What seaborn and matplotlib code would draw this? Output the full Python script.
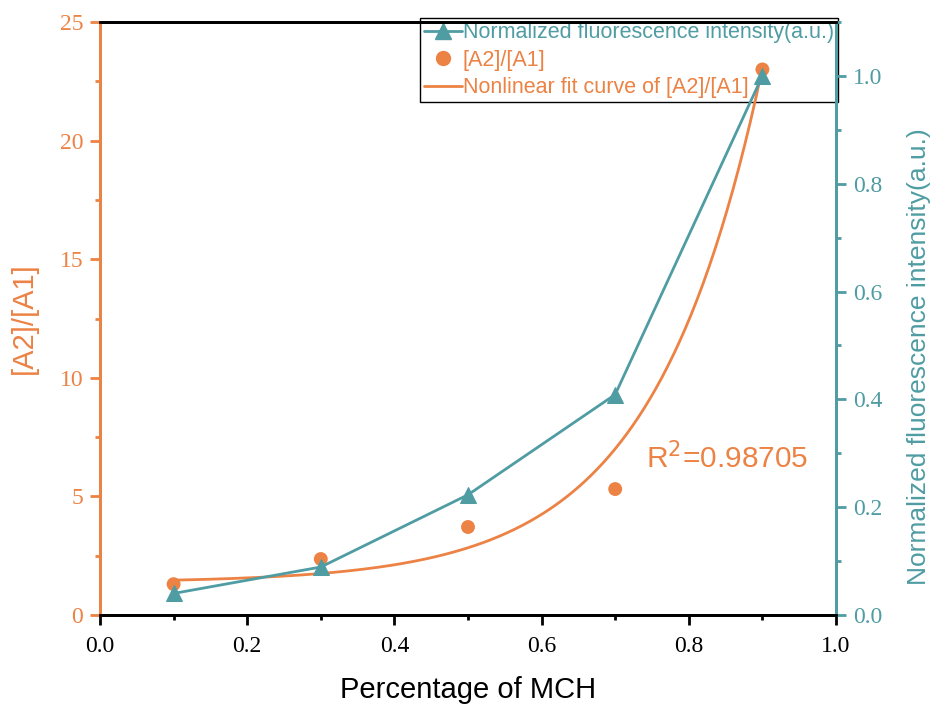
import numpy as np
import pandas as pd
import matplotlib
matplotlib.use("Agg")
import matplotlib.pyplot as plt
import seaborn as sns
from matplotlib.ticker import MultipleLocator, FormatStrFormatter
from matplotlib.lines import Line2D

# ---- data ----
mch = [0.1, 0.3, 0.5, 0.7, 0.9]
ratio_a2_a1 = [1.3, 2.36, 3.71, 5.31, 23.0]
norm_fluor = [0.04, 0.089, 0.223, 0.409, 1.0]
r2_label = "R$^2$=0.98705"

# exponential growth fit y = y0 + A*exp(x/t) (parameters)
fit_y0 = 1.37
fit_a = 0.0504
fit_t = 0.1484
fit_range = [0.1, 0.9]

ORANGE = "#EC8244"
TEAL = "#4F9CA3"

sns.set_theme(style="white")
plt.rcParams['font.family'] = ['Liberation Sans', 'DejaVu Sans']

xf = np.linspace(fit_range[0], fit_range[1], 300)
fit_df = pd.DataFrame({"x": xf, "y": fit_y0 + fit_a * np.exp(xf / fit_t)})
pts_df = pd.DataFrame({"x": mch, "ratio": ratio_a2_a1, "fl": norm_fluor})

fig = plt.figure(figsize=(9.36, 7.07), dpi=100)
ax = fig.add_axes([100/936, 92/707, 736/936, 593/707])
ax2 = ax.twinx()

sns.lineplot(data=fit_df, x="x", y="y", ax=ax, color=ORANGE, lw=2, zorder=3)
sns.scatterplot(data=pts_df, x="x", y="ratio", ax=ax, color=ORANGE, s=100,
                edgecolor="none", zorder=4)
sns.lineplot(data=pts_df, x="x", y="fl", ax=ax2, color=TEAL, lw=2,
             marker="^", markersize=11, markeredgecolor=TEAL, zorder=4)

ax.set_xlim(0, 1.0)
ax.set_ylim(0, 25)
ax2.set_ylim(0, 1.1)

ax.xaxis.set_major_locator(MultipleLocator(0.2))
ax.xaxis.set_minor_locator(MultipleLocator(0.1))
ax.yaxis.set_major_locator(MultipleLocator(5))
ax.yaxis.set_minor_locator(MultipleLocator(2.5))
ax2.yaxis.set_major_locator(MultipleLocator(0.2))
ax2.yaxis.set_minor_locator(MultipleLocator(0.1))
ax.xaxis.set_major_formatter(FormatStrFormatter("%.1f"))
ax2.yaxis.set_major_formatter(FormatStrFormatter("%.1f"))
ax.yaxis.set_major_formatter(FormatStrFormatter("%d"))

serif_fam = 'Liberation Serif'
tsize = 17
ax.tick_params(axis='x', which='major', direction='out', length=7, width=2, colors='black',
               pad=8, bottom=True, labelsize=tsize, labelfontfamily=serif_fam)
ax.tick_params(axis='x', which='minor', direction='out', length=3.5, width=2, colors='black', bottom=True)
ax.tick_params(axis='y', which='major', direction='out', length=7, width=2, color=ORANGE,
               labelcolor=ORANGE, left=True, pad=5, labelsize=tsize, labelfontfamily=serif_fam)
ax.tick_params(axis='y', which='minor', direction='out', length=3.5, width=2, color=ORANGE, left=True)
ax2.tick_params(axis='y', which='major', direction='out', length=7, width=2, color=TEAL,
                labelcolor=TEAL, right=True, pad=5, labelsize=tsize, labelfontfamily=serif_fam)
ax2.tick_params(axis='y', which='minor', direction='out', length=3.5, width=2, color=TEAL, right=True)

for a in (ax, ax2):
    for s in a.spines.values():
        s.set_visible(True)
        s.set_linewidth(2)
    a.spines['top'].set_color('black')
    a.spines['bottom'].set_color('black')
    a.spines['left'].set_color(ORANGE)
    a.spines['right'].set_color(TEAL)
    a.grid(False)

ax.set_xlabel("Percentage of MCH", fontsize=21, color='black')
ax.xaxis.set_label_coords(0.5, -0.103)
ax.set_ylabel("[A2]/[A1]", fontsize=21, color=ORANGE)
ax.yaxis.set_label_coords(-0.085, 0.5)
ax2.set_ylabel("Normalized fluorescence intensity(a.u.)", fontsize=19, color=TEAL)
ax2.yaxis.set_label_coords(1.096, 0.435)

ax.text(0.742, 6.6, r2_label, fontsize=21.5, color=ORANGE, va='center', ha='left')

handles = [
    Line2D([], [], color=TEAL, lw=2, marker='^', markersize=11, markeredgecolor=TEAL),
    Line2D([], [], color=ORANGE, lw=0, marker='o', markersize=10, markeredgecolor=ORANGE),
    Line2D([], [], color=ORANGE, lw=2),
]
labels = ["Normalized fluorescence intensity(a.u.)", "[A2]/[A1]", "Nonlinear fit curve of [A2]/[A1]"]
if ax.get_legend():
    ax.get_legend().remove()
if ax2.get_legend():
    ax2.get_legend().remove()
leg = ax.legend(handles, labels, loc='upper right', bbox_to_anchor=(1.003, 1.007),
                fontsize=15.5, frameon=True, fancybox=False, framealpha=1,
                edgecolor='black', handlelength=1.75, handletextpad=0.05,
                borderpad=0.2, labelspacing=0.3, borderaxespad=0)
leg.set_zorder(1)
leg.get_frame().set_linewidth(1)
cols = [TEAL, ORANGE, ORANGE]
for txt, c in zip(leg.get_texts(), cols):
    txt.set_color(c)

fig.savefig("out.png", dpi=100)
